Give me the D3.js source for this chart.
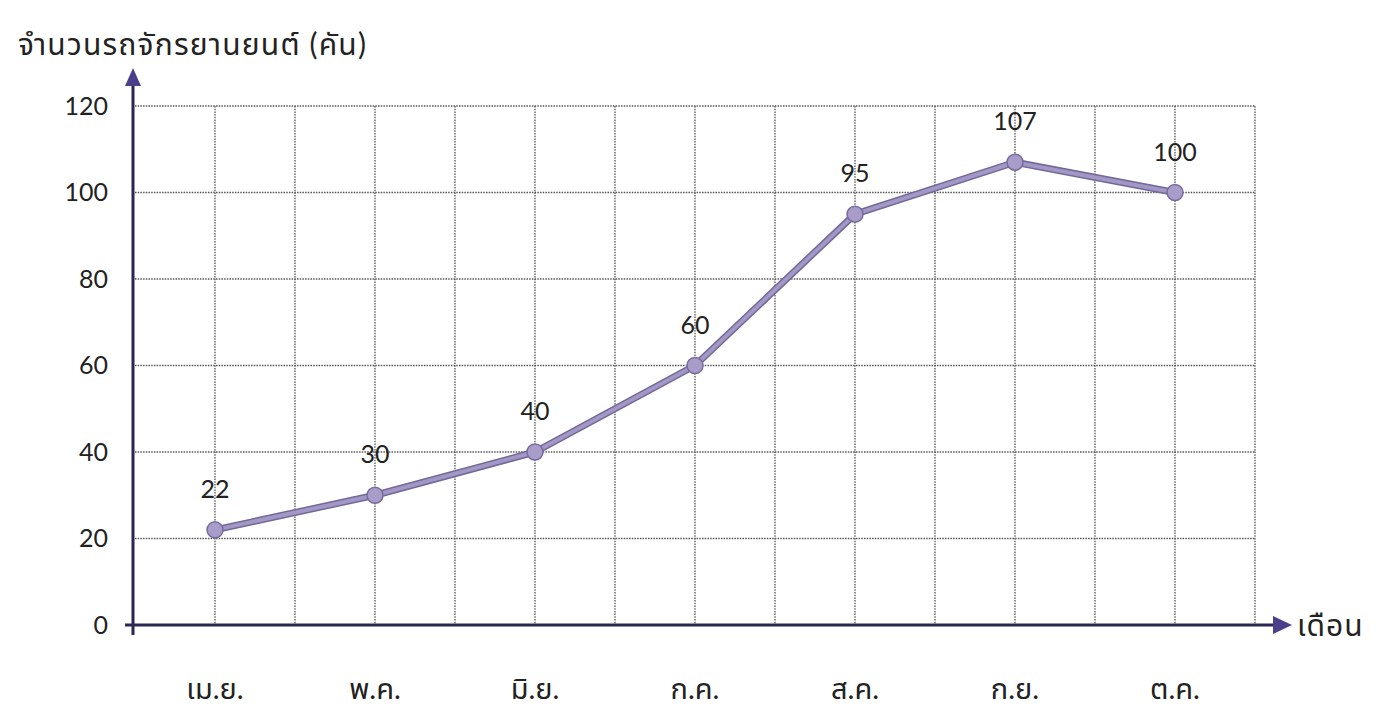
<!DOCTYPE html>
<html><head><meta charset="utf-8">
<script src="https://cdn.jsdelivr.net/npm/d3@7/dist/d3.min.js"></script>
<style>html,body{margin:0;padding:0;background:#fff;}</style>
</head><body><svg id="c" width="1379" height="720"></svg>
<script>
const months = ["เม.ย.","พ.ค.","มิ.ย.","ก.ค.","ส.ค.","ก.ย.","ต.ค."];
const counts = [22,30,40,60,95,107,100];
const yTicks = [0,20,40,60,80,100,120];
const yTitle = "จำนวนรถจักรยานยนต์ (คัน)";
const xTitle = "เดือน";

const svg = d3.select("#c");
const L = 135, R = 1255, T = 106, B = 625;
const x = d3.scalePoint().domain(months).range([L, R]).padding(0.5);
const y = d3.scaleLinear().domain([0,120]).range([B, T]);
const font = "Lato, 'Noto Sans', 'Noto Sans Thai', sans-serif";

// grid
const g = svg.append("g");
const step = x.step()/2;
const vlines = d3.range(L+step, R+0.1, step);
g.selectAll("line.v").data(vlines).enter().append("line")
  .attr("x1", d=>d).attr("x2", d=>d).attr("y1", T).attr("y2", B)
  .attr("stroke","#555").attr("stroke-width",1.3).attr("stroke-dasharray","1.5,1.2");
g.selectAll("line.h").data(yTicks.slice(1)).enter().append("line")
  .attr("x1", L).attr("x2", R).attr("y1", d=>y(d)).attr("y2", d=>y(d))
  .attr("stroke","#555").attr("stroke-width",1.3).attr("stroke-dasharray","1.5,1.2");

// y axis with ticks labels
const yAxis = d3.axisLeft(y).tickValues(yTicks).tickSize(0).tickPadding(25);
const ya = svg.append("g").attr("transform",`translate(${L-2},0)`).call(yAxis);
ya.select(".domain").remove();
ya.selectAll("text").attr("font-family",font).attr("font-size",25).attr("fill","#222");

// axes lines
const axisColor = "#2b2652";
svg.append("line").attr("x1",L-2).attr("x2",L-2).attr("y1",B+10).attr("y2",82)
  .attr("stroke",axisColor).attr("stroke-width",3);
svg.append("path").attr("d",`M${L-2},68 L${L-10},86 L${L+6},86 Z`).attr("fill","#4b3f8c");
svg.append("line").attr("x1",L-10).attr("x2",1275).attr("y1",B).attr("y2",B)
  .attr("stroke",axisColor).attr("stroke-width",3);
svg.append("path").attr("d",`M1292,${B} L1273,${B-9} L1273,${B+9} Z`).attr("fill","#4b3f8c");

// x labels
svg.selectAll("text.xl").data(months).enter().append("text")
  .attr("x", d=>x(d)).attr("y", 699).attr("text-anchor","middle")
  .attr("font-family",font).attr("font-size",29).attr("fill","#222").text(d=>d);

// titles
svg.append("text").attr("x",18).attr("y",55).attr("font-family",font)
  .attr("font-size",30).attr("letter-spacing",1.2).attr("fill","#222").text(yTitle);
svg.append("text").attr("x",1297).attr("y",B+11).attr("font-family",font)
  .attr("font-size",30).attr("letter-spacing",1).attr("fill","#222").text(xTitle);

// line
const data = months.map((m,i)=>({m, v:counts[i]}));
const line = d3.line().x(d=>x(d.m)).y(d=>y(d.v));
svg.append("path").datum(data).attr("d",line).attr("fill","none")
  .attr("stroke","#726899").attr("stroke-width",7).attr("stroke-linejoin","round");
svg.append("path").datum(data).attr("d",line).attr("fill","none")
  .attr("stroke","#a398c5").attr("stroke-width",4).attr("stroke-linejoin","round");
svg.selectAll("circle.pt").data(data).enter().append("circle")
  .attr("cx",d=>x(d.m)).attr("cy",d=>y(d.v)).attr("r",8)
  .attr("fill","#a89cc8").attr("stroke","#776c9f").attr("stroke-width",1.5);

// data labels
svg.selectAll("text.dl").data(data).enter().append("text")
  .attr("x",d=>x(d.m)).attr("y",d=>y(d.v)-32).attr("text-anchor","middle")
  .attr("font-family",font).attr("font-size",25).attr("fill","#222").text(d=>d.v);
</script></body></html>
